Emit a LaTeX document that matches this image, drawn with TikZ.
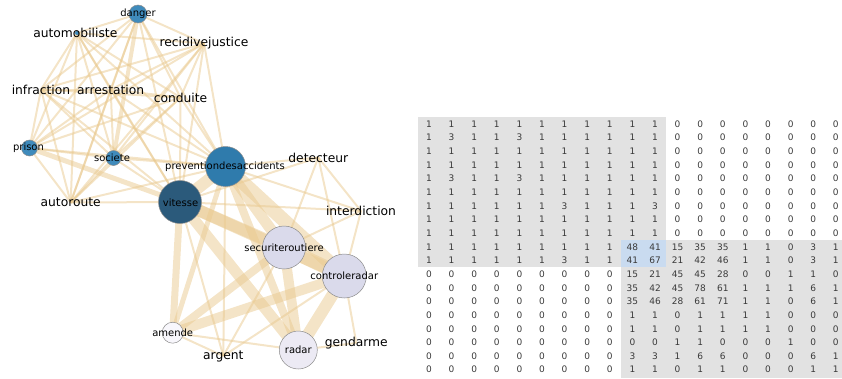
\documentclass[tikz,border=0pt]{standalone}
\usepackage{fontspec}
\setmainfont{DejaVu Sans}
\pgfdeclarelayer{edgelayer}
\pgfsetlayers{edgelayer,main}
\definecolor{edgec}{HTML}{E9C98F}
\definecolor{bmid}{HTML}{3F8BBC}
\definecolor{bprev}{HTML}{2F7BAC}
\definecolor{bdark}{HTML}{2B5A7B}
\definecolor{lav}{HTML}{DADAEB}
\definecolor{lavl}{HTML}{ECEAF4}
\definecolor{lavw}{HTML}{F8F7FC}
\definecolor{cellgray}{HTML}{E2E2E2}
\definecolor{cellblue}{HTML}{C9DBF0}
\definecolor{numc}{HTML}{3A3A3A}
\tikzset{
  biglbl/.style={font=\fontsize{12.3}{14}\selectfont, inner sep=0pt, text=black},
  smalllbl/.style={font=\fontsize{10}{12}\selectfont, inner sep=0pt, text=black},
  bub/.style={circle, draw=black!45, line width=0.5pt, inner sep=0pt, minimum size=#1},
  edge/.style={draw=edgec, draw opacity=0.5, line cap=butt},
  num/.style={font=\fontsize{9}{10}\selectfont, text=numc, inner sep=0pt},
}
\begin{document}
\begin{tikzpicture}[x=1pt,y=-1pt]
\useasboundingbox (0,0) rectangle (842,378);
% ---------- nodes with circles ----------
\node[bub=18pt, fill=bmid] (danger) at (138,14) {};
\node[bub=4pt, fill=bmid, draw=none] (auto) at (77,33) {};
\node[bub=16pt, fill=bmid] (prison) at (29.5,148) {};
\node[bub=15pt, fill=bmid] (societe) at (113.5,158) {};
\node[bub=40pt, fill=bprev] (prev) at (225.5,166.5) {};
\node[bub=43pt, fill=bdark] (vit) at (180,202) {};
\node[bub=43pt, fill=lav] (secu) at (284,247.5) {};
\node[bub=44pt, fill=lav] (ctrl) at (344.3,276) {};
\node[bub=38pt, fill=lavl] (radar) at (298.3,350) {};
\node[bub=21pt, fill=lavw] (amende) at (172.7,332.7) {};
% ---------- nodes without circles ----------
\coordinate (recid) at (204,43.5);
\coordinate (infr) at (41,89.5);
\coordinate (arrest) at (110.7,89.5);
\coordinate (cond) at (180.5,97.5);
\coordinate (autor) at (70.7,202.5);
\coordinate (detect) at (318.3,157.5);
\coordinate (interd) at (361,211);
\coordinate (argent) at (223.3,356);
\coordinate (gend) at (356.3,343);
% ---------- edges (a/b/width in px) ----------
\begin{pgfonlayer}{edgelayer}
\foreach \a/\b/\w in {
 danger/auto/2, danger/recid/2, danger/infr/2, danger/arrest/2, danger/cond/2, danger/prison/2, danger/societe/4, danger/autor/2, danger/prev/2, danger/vit/2,
 auto/recid/2, auto/infr/2, auto/arrest/2, auto/cond/2, auto/prison/2, auto/societe/2, auto/autor/2, auto/prev/2, auto/vit/2,
 recid/infr/2, recid/arrest/2, recid/cond/2, recid/prison/2, recid/societe/2, recid/autor/2, recid/prev/2, recid/vit/2,
 infr/arrest/2, infr/cond/2, infr/prison/2, infr/societe/2, infr/autor/2, infr/prev/2, infr/vit/2,
 arrest/cond/2, arrest/prison/2, arrest/societe/2, arrest/autor/2, arrest/prev/2, arrest/vit/2,
 cond/prison/2, cond/societe/2, cond/autor/2, cond/prev/2, cond/vit/2,
 prison/societe/2, prison/autor/2, prison/prev/2, prison/vit/5,
 societe/autor/2, societe/prev/2, societe/vit/2,
 autor/prev/2, autor/vit/2,
 prev/vit/12,
 radar/prev/8, radar/vit/11, radar/ctrl/12, radar/secu/10, radar/gend/2, radar/amende/2,
 ctrl/prev/14, ctrl/vit/12, ctrl/secu/14, ctrl/detect/2, ctrl/interd/2, ctrl/gend/2, ctrl/amende/10, ctrl/argent/2,
 secu/prev/11, secu/vit/12, secu/detect/2, secu/interd/2, secu/amende/8, secu/argent/2,
 detect/prev/2, detect/vit/2, detect/interd/2,
 interd/prev/2, interd/vit/2,
 amende/prev/5, amende/vit/7, amende/argent/2,
 argent/prev/2, argent/vit/2}
 {\draw[edge, line width=\w pt] (\a.center) -- (\b.center);}
\end{pgfonlayer}
% ---------- labels ----------
\node[smalllbl] (danger-t) at (danger) {danger};
\node[biglbl] (auto-t) at (75.3,33.3) {automobiliste};
\node[biglbl] (recid-t) at (recid) {recidivejustice};
\node[biglbl] (infr-t) at (infr) {infraction};
\node[biglbl] (arrest-t) at (arrest) {arrestation};
\node[biglbl] (cond-t) at (cond) {conduite};
\node[smalllbl] (prison-t) at (28.5,148) {prison};
\node[smalllbl] (societe-t) at (112,158) {societe};
\node[smalllbl] (prev-t) at (225,166.5) {preventiondesaccidents};
\node[smalllbl] (vit-t) at (180.5,202.5) {vitesse};
\node[biglbl] (autor-t) at (autor) {autoroute};
\node[biglbl] (detect-t) at (detect) {detecteur};
\node[biglbl] (interd-t) at (interd) {interdiction};
\node[smalllbl] (secu-t) at (secu) {securiteroutiere};
\node[smalllbl] (ctrl-t) at (ctrl) {controleradar};
\node[smalllbl] (radar-t) at (radar) {radar};
\node[smalllbl] (amende-t) at (amende) {amende};
\node[biglbl] (argent-t) at (argent) {argent};
\node[biglbl] (gend-t) at (gend) {gendarme};
% ---------- matrix ----------
\fill[cellgray] (418,117) rectangle (666.3,267.3);
\fill[cellgray] (621.1,240) rectangle (842,378);
\fill[cellblue] (621.1,240) rectangle (666.3,267.3);
\foreach \row [count=\r] in {
 {1,1,1,1,1,1,1,1,1,1,1,0,0,0,0,0,0,0,0},
 {1,3,1,1,3,1,1,1,1,1,1,0,0,0,0,0,0,0,0},
 {1,1,1,1,1,1,1,1,1,1,1,0,0,0,0,0,0,0,0},
 {1,1,1,1,1,1,1,1,1,1,1,0,0,0,0,0,0,0,0},
 {1,3,1,1,3,1,1,1,1,1,1,0,0,0,0,0,0,0,0},
 {1,1,1,1,1,1,1,1,1,1,1,0,0,0,0,0,0,0,0},
 {1,1,1,1,1,1,3,1,1,1,3,0,0,0,0,0,0,0,0},
 {1,1,1,1,1,1,1,1,1,1,1,0,0,0,0,0,0,0,0},
 {1,1,1,1,1,1,1,1,1,1,1,0,0,0,0,0,0,0,0},
 {1,1,1,1,1,1,1,1,1,48,41,15,35,35,1,1,0,3,1},
 {1,1,1,1,1,1,3,1,1,41,67,21,42,46,1,1,0,3,1},
 {0,0,0,0,0,0,0,0,0,15,21,45,45,28,0,0,1,1,0},
 {0,0,0,0,0,0,0,0,0,35,42,45,78,61,1,1,1,6,1},
 {0,0,0,0,0,0,0,0,0,35,46,28,61,71,1,1,0,6,1},
 {0,0,0,0,0,0,0,0,0,1,1,0,1,1,1,1,0,0,0},
 {0,0,0,0,0,0,0,0,0,1,1,0,1,1,1,1,0,0,0},
 {0,0,0,0,0,0,0,0,0,0,0,1,1,0,0,0,1,0,0},
 {0,0,0,0,0,0,0,0,0,3,3,1,6,6,0,0,0,6,1},
 {0,0,0,0,0,0,0,0,0,1,1,0,1,1,0,0,0,1,1}}
 {\foreach \v [count=\c] in \row
   {\node[num] (m-\r-\c) at ({429+(\c-1)*22.6},{124+(\r-1)*13.65}) {\v};}}
\end{tikzpicture}
\end{document}
